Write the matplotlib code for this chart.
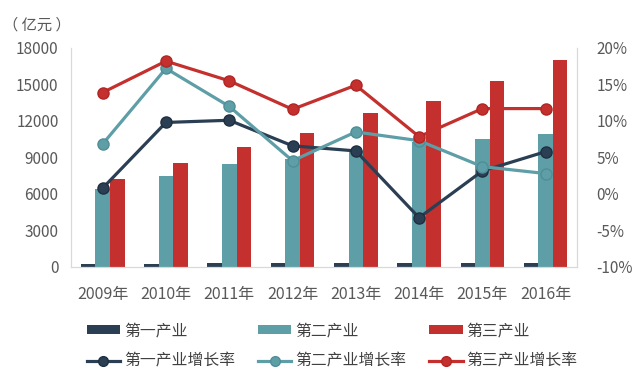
import matplotlib
matplotlib.use("Agg")
import matplotlib.pyplot as plt
import numpy as np
from matplotlib.ticker import FuncFormatter

plt.rcParams['font.family'] = ['Noto Sans CJK SC', 'DejaVu Sans']

years = ['2009年', '2010年', '2011年', '2012年', '2013年', '2014年', '2015年', '2016年']
primary = [230, 240, 290, 300, 310, 320, 330, 340]
secondary = [6450, 7500, 8500, 8850, 9550, 10300, 10550, 10900]
tertiary = [7250, 8550, 9900, 11050, 12630, 13640, 15250, 17000]
primary_rate = [0.8, 9.8, 10.1, 6.6, 5.9, -3.25, 3.15, 5.8]
secondary_rate = [6.85, 17.2, 12.0, 4.55, 8.5, 7.3, 3.75, 2.8]
tertiary_rate = [13.9, 18.2, 15.5, 11.6, 14.9, 7.85, 11.7, 11.7]

c1, c2, c3 = '#2B3F54', '#5E9EA7', '#C4302D'
grey = '#595959'
spine = '#D9D9D9'

fig = plt.figure(figsize=(6.4, 3.83), dpi=100)
ax = fig.add_axes([0.111, 0.3029, 0.791, 0.5718])
ax2 = ax.twinx()

x = np.arange(len(years))
w = 0.23
b1 = ax.bar(x - w, primary, w, color=c1)
b2 = ax.bar(x, secondary, w, color=c2)
b3 = ax.bar(x + w, tertiary, w, color=c3)

l1, = ax2.plot(x, primary_rate, color=c1, lw=2.3, marker='o', ms=8, mec='#1f2f40', mew=1)
l2, = ax2.plot(x, secondary_rate, color=c2, lw=2.3, marker='o', ms=8, mec='#4f8e97', mew=1)
l3, = ax2.plot(x, tertiary_rate, color=c3, lw=2.3, marker='o', ms=8, mec='#b02624', mew=1)

ax.set_xlim(-0.5, 7.5)
ax.set_ylim(0, 18000)
ax.set_yticks(np.arange(0, 18001, 3000))
ax2.set_ylim(-10, 20)
ax2.set_yticks(np.arange(-10, 21, 5))
ax2.yaxis.set_major_formatter(FuncFormatter(lambda v, p: f'{int(v)}%'))

ax.set_xticks(x)
ax.set_xticklabels(years)

for a in (ax, ax2):
    for s in a.spines.values():
        s.set_color(spine)
    a.spines['top'].set_visible(False)
    a.tick_params(length=0, colors=grey, labelsize=11)
ax.tick_params(axis='x', labelsize=11.5, pad=14)
ax.tick_params(axis='y', pad=9)
ax2.tick_params(axis='y', pad=14)

fig.text(0.004, 0.934, '（ 亿元 ）', color=grey, fontsize=11, va='center', ha='left')

handles = [b1, l1, b2, l2, b3, l3]
labels = ['第一产业', '第一产业增长率', '第二产业', '第二产业增长率', '第三产业', '第三产业增长率']
leg = fig.legend(handles, labels, ncol=3, loc='center', bbox_to_anchor=(0.519, 0.0966),
                 frameon=False, fontsize=11.4, handlelength=2.1, handleheight=0.55,
                 handletextpad=0.25, columnspacing=1.45, labelspacing=0.85,
                 labelcolor='#404040', borderpad=0)
for h in leg.legend_handles:
    if hasattr(h, 'set_markersize'):
        h.set_markersize(7)

fig.savefig('out.png', dpi=100)
